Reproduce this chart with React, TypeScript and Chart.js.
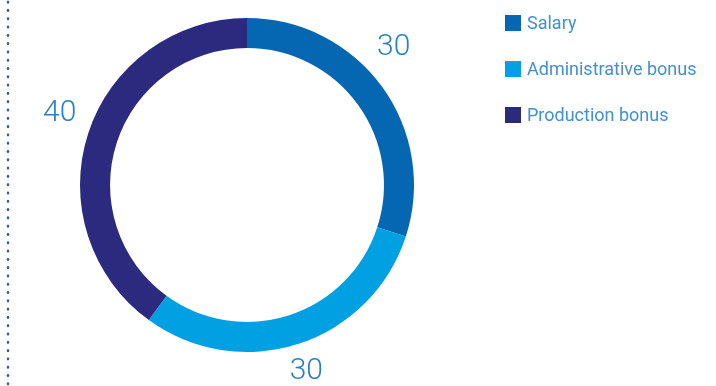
import React, { useEffect, useRef } from "react";
import { Chart, registerables } from "chart.js";

Chart.register(...registerables);

const categories = ["Salary", "Administrative bonus", "Production bonus"];
const values = [30, 30, 40];
const valueLabels = ["30", "30", "40"];
const colors = ["#0567b2", "#00a0e3", "#2b2a7f"];

const labelPlugin = {
  id: "arcLabels",
  afterDatasetsDraw(chart: any, _args: any, opts: any) {
    const ctx = chart.ctx;
    const meta = chart.getDatasetMeta(0);
    ctx.save();
    ctx.font = `300 ${opts.size}px Roboto`;
    ctx.fillStyle = opts.color;
    ctx.textAlign = "center";
    ctx.textBaseline = "middle";
    meta.data.forEach((arc: any, i: number) => {
      const p = arc.getProps(["x", "y", "startAngle", "endAngle", "outerRadius"], true);
      const mid = (p.startAngle + p.endAngle) / 2 + (opts.angleShift[i] * Math.PI) / 180;
      const r = p.outerRadius + opts.offset[i];
      ctx.fillText(valueLabels[i], p.x + Math.cos(mid) * r, p.y + Math.sin(mid) * r + opts.dy);
    });
    ctx.restore();
  },
};

export default function App() {
  const ref = useRef<HTMLCanvasElement>(null);
  useEffect(() => {
    const chart = new Chart(ref.current!, {
      type: "doughnut",
      data: {
        labels: categories,
        datasets: [
          {
            data: values,
            backgroundColor: colors,
            borderWidth: 0,
          },
        ],
      },
      options: {
        animation: false,
        responsive: false,
        cutout: "82%",
        layout: { padding: { left: 80, right: 302, top: 18, bottom: 34 } },
        plugins: {
          legend: { display: false },
          tooltip: { enabled: false },
          arcLabels: { size: 30, color: "#2a80c6", angleShift: [-8, 0, 4], offset: [37, 25, 35], dy: 4 },
        } as any,
      },
      plugins: [labelPlugin],
    });
    return () => chart.destroy();
  }, []);

  return (
    <div style={{ position: "fixed", left: 0, top: 0, width: 716, height: 386, background: "#fff", overflow: "hidden" }}>
      <div
        style={{
          position: "absolute",
          left: 6,
          top: 0,
          width: 4,
          height: 386,
          backgroundImage: "radial-gradient(circle, #3a5aac 1.1px, transparent 1.7px)",
          backgroundSize: "4px 8.3px",
          backgroundPosition: "0 -2px",
        }}
      />
      <canvas ref={ref} width={716} height={386} style={{ position: "absolute", left: 0, top: 0 }} />
      <div style={{ position: "absolute", left: 505, top: 0, fontFamily: "Roboto", fontSize: 18, color: "#4190d2" }}>
        {categories.map((c, i) => (
          <div key={c} style={{ position: "absolute", left: 0, top: 15 + i * 46, display: "flex", alignItems: "center", whiteSpace: "nowrap", height: 16 }}>
            <span style={{ display: "inline-block", width: 16, height: 16, background: colors[i], marginRight: 6 }} />
            <span style={{ lineHeight: "16px" }}>{c}</span>
          </div>
        ))}
      </div>
    </div>
  );
}
